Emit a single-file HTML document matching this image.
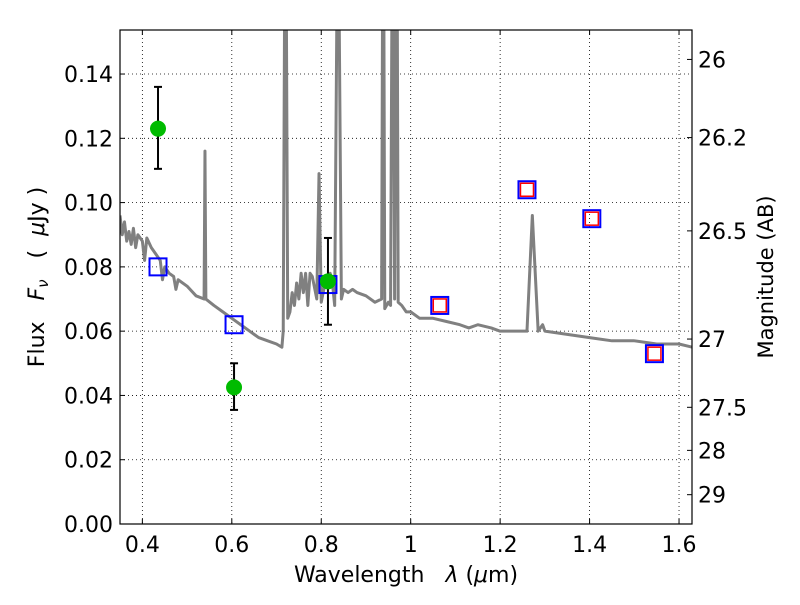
<!DOCTYPE html>
<html><head><meta charset="utf-8"><style>
body{margin:0;background:#fff}
svg text{font-family:"DejaVu Sans","Liberation Sans",sans-serif;fill:#000;white-space:pre}
</style></head><body>
<svg id="chart" width="800" height="600">
<defs><clipPath id="pc"><rect x="120" y="30" width="572" height="494"/></clipPath></defs>
<rect x="0" y="0" width="800" height="600" fill="#fff"/>
<g id="grid"></g>
<g id="marks" clip-path="url(#pc)"></g>
<rect x="120" y="30" width="572" height="494" fill="none" stroke="#000" stroke-width="1.2"/>
<g id="axes"></g>
<text x="406" y="582" font-size="22" text-anchor="middle" xml:space="preserve">Wavelength   <tspan font-style="italic">λ</tspan> (<tspan font-style="italic">μ</tspan>m)</text>
<text transform="translate(44,277) rotate(-90)" font-size="22" text-anchor="middle" xml:space="preserve">Flux   <tspan font-style="italic">F<tspan font-size="15" dy="4">ν</tspan></tspan><tspan dy="-4">   (  </tspan><tspan font-style="italic">μ</tspan>Jy )</text>
<text transform="translate(773,277) rotate(-90)" font-size="21" text-anchor="middle">Magnitude (AB)</text>
</svg>
<script>
const xTicks=[0.4,0.6,0.8,1.0,1.2,1.4,1.6];
const xTickLabels=["0.4","0.6","0.8","1","1.2","1.4","1.6"];
const yTicks=[0,0.02,0.04,0.06,0.08,0.1,0.12,0.14];
const yTickLabels=["0.00","0.02","0.04","0.06","0.08","0.10","0.12","0.14"];
const magTicks=[26,26.2,26.5,27,27.5,28,29];
const magTickLabels=["26","26.2","26.5","27","27.5","28","29"];
const specWave=[0.35,0.355,0.36,0.365,0.37,0.375,0.38,0.385,0.39,0.40,0.405,0.41,0.42,0.43,0.44,0.445,0.45,0.46,0.47,0.475,0.48,0.50,0.52,0.538,0.54,0.542,0.56,0.58,0.60,0.62,0.64,0.66,0.68,0.70,0.712,0.715,0.718,0.722,0.725,0.73,0.735,0.74,0.745,0.75,0.755,0.76,0.765,0.77,0.775,0.78,0.79,0.795,0.80,0.81,0.82,0.825,0.83,0.835,0.84,0.845,0.85,0.86,0.87,0.88,0.90,0.92,0.935,0.937,0.94,0.942,0.95,0.955,0.958,0.962,0.964,0.966,0.970,0.972,0.98,0.99,1.0,1.02,1.05,1.08,1.11,1.13,1.15,1.18,1.2,1.25,1.26,1.272,1.285,1.295,1.30,1.35,1.40,1.45,1.50,1.55,1.60,1.63];
const specFlux=[0.096,0.090,0.094,0.088,0.091,0.087,0.092,0.086,0.090,0.088,0.082,0.089,0.086,0.084,0.082,0.076,0.080,0.078,0.077,0.073,0.076,0.074,0.071,0.070,0.116,0.070,0.068,0.066,0.064,0.062,0.060,0.058,0.057,0.056,0.055,0.060,0.16,0.16,0.064,0.066,0.072,0.068,0.075,0.070,0.078,0.072,0.078,0.068,0.078,0.077,0.070,0.109,0.069,0.076,0.078,0.075,0.068,0.16,0.16,0.070,0.073,0.072,0.073,0.072,0.071,0.069,0.070,0.16,0.16,0.067,0.069,0.068,0.16,0.16,0.070,0.16,0.16,0.069,0.068,0.066,0.066,0.064,0.064,0.063,0.062,0.061,0.062,0.061,0.060,0.060,0.060,0.096,0.060,0.062,0.060,0.059,0.058,0.057,0.057,0.056,0.056,0.055];
const photWave=[0.435,0.605,0.815];
const photFlux=[0.123,0.0425,0.0755];
const photErrLo=[0.0125,0.007,0.0135];
const photErrHi=[0.013,0.0075,0.0135];
const modelWave=[0.435,0.605,0.815,1.065,1.26,1.405,1.545];
const modelFlux=[0.080,0.062,0.0745,0.068,0.104,0.095,0.053];
const nirWave=[1.065,1.26,1.405,1.545];
const nirFlux=[0.068,0.104,0.095,0.053];

const X0=120,X1=692,Y0=524,Y1=30,xmin=0.35,xmax=1.629,ymin=0,ymax=0.1537;
const sx=v=>X0+(v-xmin)/(xmax-xmin)*(X1-X0);
const sy=v=>Y0-(v-ymin)/(ymax-ymin)*(Y0-Y1);
const NS="http://www.w3.org/2000/svg";
function mk(tag,attrs,parent){const e=document.createElementNS(NS,tag);for(const k in attrs)e.setAttribute(k,attrs[k]);parent.appendChild(e);return e;}
const grid=document.getElementById('grid'),axes=document.getElementById('axes'),marks=document.getElementById('marks');
xTicks.forEach((t,i)=>{const x=sx(t);
 const g=mk('line',{x1:x,x2:x,y1:Y1,y2:Y0,stroke:'#000','stroke-width':0.8,'stroke-dasharray':'1,3'},grid);
 
 mk('line',{x1:x,x2:x,y1:Y0,y2:Y0-5,stroke:'#000'},axes);mk('line',{x1:x,x2:x,y1:Y1,y2:Y1+5,stroke:'#000'},axes);
 const tx=mk('text',{x:x,y:Y0+28,'font-size':22,'text-anchor':'middle'},axes);tx.textContent=xTickLabels[i];
 });
yTicks.forEach((t,i)=>{const y=sy(t);
 const g=mk('line',{x1:X0,x2:X1,y1:y,y2:y,stroke:'#000','stroke-width':0.8,'stroke-dasharray':'1,3'},grid);
 
 mk('line',{x1:X0,x2:X0+5,y1:y,y2:y,stroke:'#000'},axes);
 const tx=mk('text',{x:X0-7,y:y+8,'font-size':22,'text-anchor':'end'},axes);tx.textContent=yTickLabels[i];
 });
magTicks.forEach((m,i)=>{const f=Math.pow(10,(23.9-m)/2.5),y=sy(f);
 mk('line',{x1:X1,x2:X1-5,y1:y,y2:y,stroke:'#000'},axes);
 const tx=mk('text',{x:X1+6,y:y+8,'font-size':22},axes);tx.textContent=magTickLabels[i];
 });
const sp=mk('polyline',{points:specWave.map((w,i)=>sx(w)+','+sy(specFlux[i])).join(' '),fill:'none',stroke:'#808080','stroke-width':3,'stroke-linejoin':'round'},marks);

modelWave.forEach((w,i)=>{const x=sx(w),y=sy(modelFlux[i]);
 const r=mk('rect',{x:x-8.5,y:y-8.5,width:17,height:17,fill:'none',stroke:'#0000ff','stroke-width':2},marks);
 });
nirWave.forEach((w,i)=>{const x=sx(w),y=sy(nirFlux[i]);
 const r=mk('rect',{x:x-6.5,y:y-6.5,width:13,height:13,fill:'none',stroke:'#ff0000','stroke-width':1.5},marks);
 });
photWave.forEach((w,i)=>{const x=sx(w),y=sy(photFlux[i]),yt=sy(photFlux[i]+photErrHi[i]),yb=sy(photFlux[i]-photErrLo[i]);
 const g=mk('g',{},marks);
 mk('line',{x1:x,x2:x,y1:yt,y2:yb,stroke:'#000','stroke-width':2},g);
 mk('line',{x1:x-4,x2:x+4,y1:yt,y2:yt,stroke:'#000','stroke-width':2},g);
 mk('line',{x1:x-4,x2:x+4,y1:yb,y2:yb,stroke:'#000','stroke-width':2},g);
 mk('circle',{cx:x,cy:y,r:8,fill:'#00bb00'},g);});
</script>
</body></html>
